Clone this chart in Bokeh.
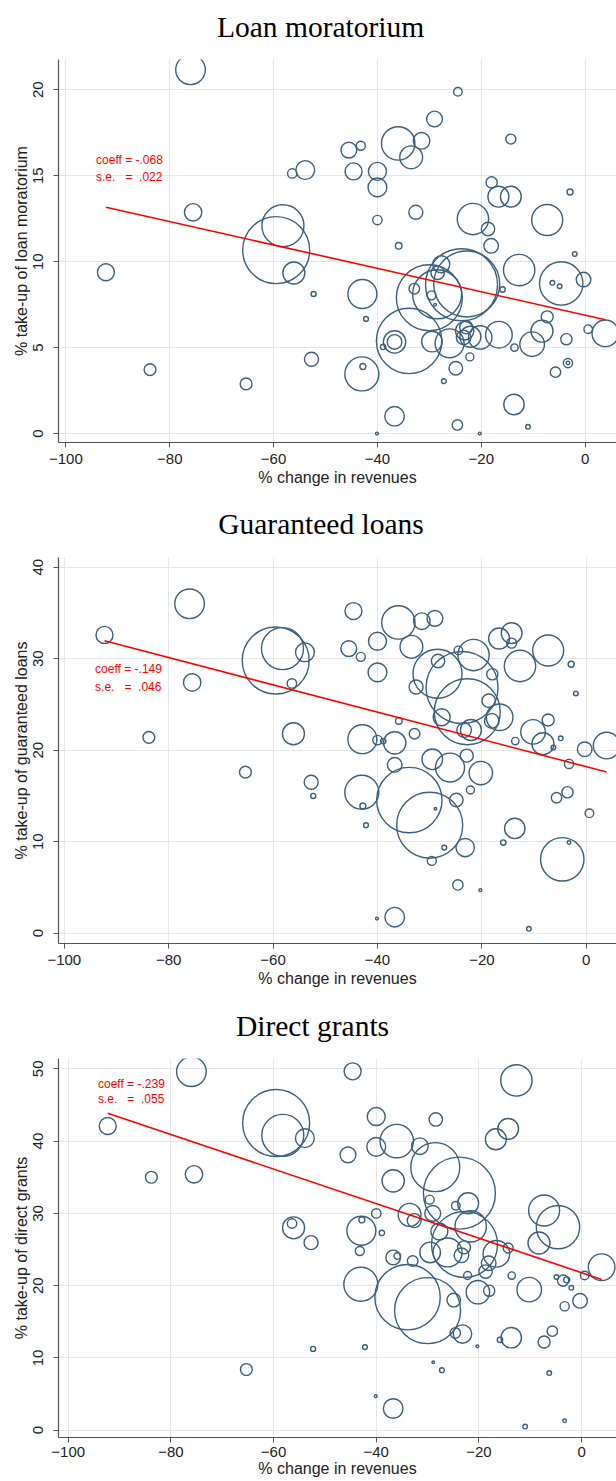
import math
from bokeh.plotting import figure
from bokeh.layouts import column
from bokeh.models import Range1d, FixedTicker, Label
from bokeh.core.properties import value
from bokeh.embed import file_html
from bokeh.resources import INLINE

# ---------------- data (one entry per sector) ----------------
revenue_change = [
    -76.0, -24.5, -29.0, -36.0, -31.5, -33.5, -45.5, -43.2, -44.6, -40.0,
    -40.0, -56.4, -53.9, -75.5, -58.2, -59.5, -32.6, -40.0, -21.6, -18.7,
    -18.0, -16.7, -14.3, -14.3, -2.9, -7.3, -35.9, -18.1, -92.3, -56.1,
    -52.3, -42.9, -42.2, -52.7, -83.8, -65.3, -43.0, -42.8, -36.7, -40.1,
    -20.3, -24.6, -13.7, -11.0, -33.9, -36.7, -36.7, -38.9, -32.9, -29.6,
    -30.0, -28.5, -23.8, -22.8, -27.7, -28.4, -12.7, -15.9, -2.0, -4.6,
    -6.3, -4.9, -0.3, 3.9, 0.6, -7.3, -8.3, -10.2, -3.6, -3.3,
    -3.3, -5.7, -13.6, -16.6, -20.2, -22.1, -23.2, -23.4, -22.9, -22.2,
    -24.9, -27.2, -26.1, -29.5, -28.9,
]
weight = [
    21.9, 1.85, 6.24, 27.9, 6.89, 13.0, 6.24, 2.03, 7.23, 8.1,
    8.84, 2.21, 8.84, 7.57, 44.1, 112.2, 4.9, 2.21, 24.6, 4.49,
    3.14, 11.0, 10.8, 2.5, 0.9, 24.0, 1.09, 5.33, 7.23, 12.1,
    0.63, 21.0, 0.58, 4.9, 3.48, 3.48, 28.9, 0.9, 9.6, 0.2,
    0.2, 2.7, 10.4, 0.53, 106.9, 12.5, 5.33, 0.73, 2.81, 2.03,
    108.9, 60.0, 129.6, 108.9, 7.23, 4.49, 24.6, 0.73, 0.53, 47.1,
    0.53, 0.53, 5.33, 17.7, 1.85, 3.6, 12.1, 15.1, 3.14, 2.12,
    0.32, 2.7, 1.37, 17.7, 13.7, 11.0, 8.46, 5.33, 4.23, 1.6,
    4.62, 0.58, 21.0, 10.6, 0.17,
]
takeup_moratorium = [
    21.16, 19.88, 18.3, 16.88, 17.03, 16.07, 16.49, 16.74, 15.25, 15.25,
    14.32, 15.13, 15.33, 12.87, 12.09, 10.67, 12.87, 12.42, 12.48, 11.9,
    14.61, 13.78, 13.78, 17.13, 14.05, 12.42, 10.92, 10.92, 9.38, 9.34,
    8.12, 8.12, 6.67, 4.32, 3.72, 2.89, 3.47, 3.9, 1.0, 0.0,
    0.0, 0.5, 1.69, 0.39, 5.39, 5.33, 5.33, 5.04, 8.43, 8.04,
    7.9, 8.1, 8.66, 8.7, 9.85, 9.35, 9.51, 8.38, 10.45, 8.73,
    8.77, 8.57, 8.96, 5.83, 6.07, 6.79, 5.96, 5.2, 5.49, 4.1,
    4.1, 3.57, 5.0, 5.75, 5.59, 5.63, 5.98, 5.59, 6.18, 4.46,
    3.8, 3.05, 5.25, 5.35, 7.5,
]
takeup_guaranteed = [
    36.0, 30.9, 34.4, 33.96, 34.1, 31.3, 31.1, 30.2, 35.2, 31.9,
    28.5, 27.3, 30.7, 27.4, 31.1, 29.8, 26.9, 21.1, 30.4, 25.4,
    28.3, 32.2, 32.8, 31.7, 29.4, 30.9, 23.2, 23.2, 32.6, 21.8,
    15.0, 21.2, 11.8, 16.5, 21.4, 17.6, 15.4, 13.9, 1.75, 1.6,
    4.7, 5.27, 11.45, 0.47, 14.55, 20.8, 18.4, 21.0, 21.8, 7.9,
    11.8, 28.35, 26.85, 24.2, 23.6, 29.75, 29.2, 9.9, 26.2, 8.07,
    20.3, 21.3, 20.1, 20.5, 13.1, 23.3, 20.7, 22.0, 15.4, 18.5,
    9.9, 14.8, 21.0, 23.6, 17.5, 22.2, 9.35, 22.2, 19.4, 15.65,
    14.55, 9.35, 18.1, 19.0, 13.6,
]
takeup_grants = [
    49.6, 31.05, 30.0, 40.0, 39.3, 29.8, 38.1, 24.8, 49.65, 43.4,
    39.2, 28.6, 40.4, 35.4, 40.8, 42.5, 29.0, 30.0, 28.2, 21.95,
    19.3, 40.25, 41.7, 25.2, 20.8, 30.4, 24.1, 23.1, 42.1, 28.0,
    11.25, 27.6, 11.5, 25.95, 35.0, 8.4, 20.2, 29.1, 3.0, 4.7,
    11.6, 13.45, 12.8, 0.5, 18.4, 34.5, 23.9, 27.3, 23.4, 31.9,
    16.55, 36.4, 32.8, 25.7, 27.5, 43.0, 48.4, 12.5, 19.7, 28.1,
    7.9, 21.2, 17.9, 22.55, 21.4, 12.2, 25.9, 19.45, 20.7, 17.15,
    1.3, 13.7, 21.4, 24.4, 19.1, 31.4, 13.3, 24.2, 25.3, 21.4,
    18.0, 8.3, 24.6, 24.6, 9.4,
]

panel_titles = ["Loan moratorium", "Guaranteed loans", "Direct grants"]
y_axis_labels = ["% take-up of loan moratorium", "% take-up of guaranteed loans",
                 "% take-up of direct grants"]
x_axis_label = "% change in revenues"
coefficients = [-0.068, -0.149, -0.239]
intercepts = [6.89, 18.2, 21.79]
coef_texts = ["coeff = -.068", "coeff = -.149", "coeff = -.239"]
se_texts = ["s.e.\u00a0\u00a0\u00a0=\u00a0\u00a0.022", "s.e.\u00a0\u00a0\u00a0=\u00a0\u00a0.046",
            "s.e.\u00a0\u00a0\u00a0=\u00a0\u00a0.055"]
x_ticks = [-100, -80, -60, -40, -20, 0]
y_ticks = [[0, 5, 10, 15, 20], [0, 10, 20, 30, 40], [0, 10, 20, 30, 40, 50]]
series = [takeup_moratorium, takeup_guaranteed, takeup_grants]

# ---------------- layout / style ----------------
W = 616
LEFT = 58           # common frame left edge (the column aligns frames)
CIRCLE = "#3b5f7c"
AXIS = "#555555"
# title strip: height, text start x (page px), text middle height above strip bottom
title_specs = [(45, 216.5, 19.0), (50, 217.7, 19.0), (50, 235.4, 17.5)]
layout_specs = [
    dict(height=447, top=14, bottom=50, xr=(-101.43, 6.05), yr=(-0.52, 21.76),
         lab=(-94.2, 15.93, 14.94), xstand=(6, 2)),
    dict(height=451, top=15, bottom=50, xr=(-101.11, 5.79), yr=(-1.13, 41.06),
         lab=(-94.1, 28.9, 26.9), xstand=(6, 2)),
    dict(height=438, top=15, bottom=44, xr=(-101.89, 6.8), yr=(-1.01, 51.43),
         lab=(-94.2, 47.9, 45.8), xstand=(4, 0)),
]

sizes = [2.0 * math.sqrt(w * 10.0) for w in weight]
xmin, xmax = min(revenue_change), max(revenue_change)

items = []
for i, spec in enumerate(layout_specs):
    # ---- title strip (frame spans LEFT..W, so x data == page px) ----
    th, tx, tm = title_specs[i]
    t = figure(width=W, height=th, output_backend="svg", toolbar_location=None,
               title=None, x_range=Range1d(LEFT, W), y_range=Range1d(0, th),
               x_axis_type=None, y_axis_type=None,
               min_border_left=LEFT, min_border_right=0,
               min_border_top=0, min_border_bottom=0)
    t.outline_line_color = None
    t.xgrid.visible = False
    t.ygrid.visible = False
    t.text(x=[tx], y=[tm], text=[panel_titles[i]], text_font=value("Liberation Serif"),
           text_font_size=value("29.5px"), text_color="black",
           text_baseline="middle", text_align="left")
    items.append(t)

    # ---- scatter panel ----
    p = figure(width=W, height=spec["height"], output_backend="svg",
               toolbar_location=None, title=None, x_range=Range1d(*spec["xr"]),
               y_range=Range1d(*spec["yr"]),
               min_border_left=LEFT, min_border_right=0,
               min_border_top=spec["top"], min_border_bottom=spec["bottom"])
    p.outline_line_color = None
    p.background_fill_color = "white"
    p.border_fill_color = "white"

    for ax in (p.xaxis[0], p.yaxis[0]):
        ax.axis_line_color = AXIS
        ax.axis_line_width = 1.2
        ax.major_tick_line_color = AXIS
        ax.major_tick_out = 5
        ax.major_tick_in = 0
        ax.minor_tick_line_color = None
        ax.major_label_text_font = "Liberation Sans"
        ax.major_label_text_font_size = "15px"
        ax.major_label_text_color = "#222222"
        ax.axis_label_text_font = "Liberation Sans"
        ax.axis_label_text_font_size = "16px"
        ax.axis_label_text_font_style = "normal"
        ax.axis_label_text_color = "#222222"

    p.xaxis.ticker = FixedTicker(ticks=x_ticks)
    p.yaxis.ticker = FixedTicker(ticks=y_ticks[i])
    p.xaxis.axis_label = x_axis_label
    p.yaxis.axis_label = y_axis_labels[i]
    p.xaxis.major_label_standoff = spec["xstand"][0]
    p.xaxis.axis_label_standoff = spec["xstand"][1]
    p.yaxis.major_label_orientation = "vertical"
    p.yaxis.major_label_standoff = 10
    p.yaxis.axis_label_standoff = 1

    p.xgrid.grid_line_color = "#e6e6e6"
    p.ygrid.grid_line_color = "#e6e6e6"
    p.xgrid.grid_line_width = 1
    p.ygrid.grid_line_width = 1

    p.scatter(revenue_change, series[i], size=sizes, marker="circle",
              fill_color=None, line_color=CIRCLE, line_width=1.4)

    b, a = coefficients[i], intercepts[i]
    p.line([xmin, xmax], [a + b * xmin, a + b * xmax], line_color="red",
           line_width=1.6)

    lx, ly1, ly2 = spec["lab"]
    for txt, yy in ((coef_texts[i], ly1), (se_texts[i], ly2)):
        p.add_layout(Label(x=lx, y=yy, text=txt, text_color="red",
                           text_font="Liberation Sans", text_font_size="12px",
                           text_baseline="middle", text_align="left"))
    items.append(p)

layout = column(*items, spacing=0)
open("out.html", "w").write(file_html(layout, INLINE))
